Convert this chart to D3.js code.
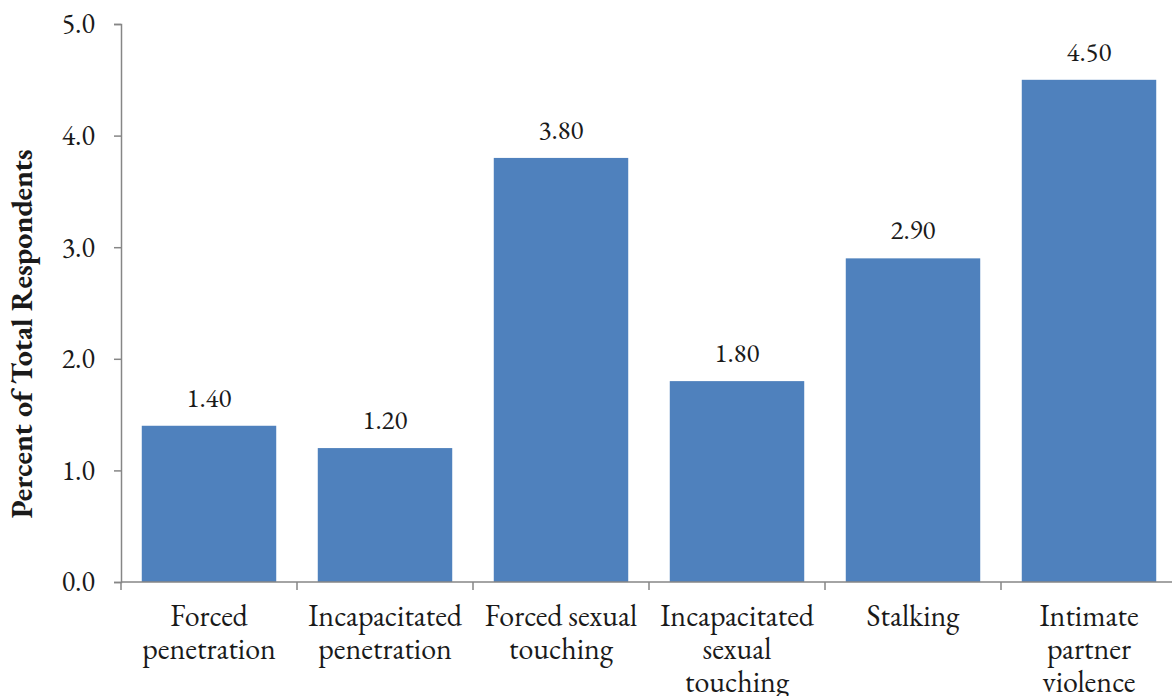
<!DOCTYPE html>
<html>
<head>
<meta charset="utf-8">
<script src="https://cdn.jsdelivr.net/npm/d3@7"></script>
<style>
  body { margin: 0; background: #fff; }
  svg text { font-family: "EB Garamond", "Times New Roman", serif; fill: #1a1a1a; }
</style>
</head>
<body>
<div id="chart"></div>
<script>
const categories = [
    ["Forced", "penetration"],
    ["Incapacitated", "penetration"],
    ["Forced sexual", "touching"],
    ["Incapacitated", "sexual", "touching"],
    ["Stalking"],
    ["Intimate", "partner", "violence"]
];
const values = [1.4, 1.2, 3.8, 1.8, 2.9, 4.5];
const yTicks = [0, 1, 2, 3, 4, 5];

const width = 1172, height = 696;
const margin = { left: 121, right: -5, top: 24, bottom: 114 };

const svg = d3.select("#chart").append("svg")
    .attr("width", width)
    .attr("height", height);

const x = d3.scaleBand()
    .domain(d3.range(categories.length))
    .range([margin.left, width - margin.right])
    .paddingInner(0.236)
    .paddingOuter(0.118);

const y = d3.scaleLinear()
    .domain([0, 5])
    .range([height - margin.bottom, margin.top]);

// bars
svg.append("g")
    .selectAll("rect")
    .data(values)
    .enter().append("rect")
    .attr("x", (d, i) => x(i))
    .attr("y", d => y(d))
    .attr("width", x.bandwidth())
    .attr("height", d => y(0) - y(d))
    .attr("fill", "#4f81bd");

// value labels
svg.append("g")
    .selectAll("text")
    .data(values)
    .enter().append("text")
    .attr("x", (d, i) => x(i) + x.bandwidth() / 2)
    .attr("y", d => y(d) - 19)
    .attr("text-anchor", "middle")
    .style("font-size", "27px")
    .text(d => d.toFixed(2));

// y axis
const yAxis = svg.append("g")
    .attr("transform", `translate(${margin.left},0)`)
    .call(d3.axisLeft(y).tickValues(yTicks).tickFormat(d3.format(".1f")).tickSizeOuter(0).tickSize(7).tickPadding(19));
yAxis.select(".domain").attr("stroke", "#868686").attr("stroke-width", 1.5);
yAxis.selectAll(".tick line").attr("stroke", "#868686").attr("stroke-width", 1.5);
yAxis.selectAll(".tick text").style("font-size", "28px").attr("fill", "#1a1a1a");

// x axis with ticks at band boundaries
const y0 = y(0);
svg.append("line")
    .attr("x1", margin.left).attr("x2", width)
    .attr("y1", y0).attr("y2", y0)
    .attr("stroke", "#868686").attr("stroke-width", 1.5);

const step = x.step();
const boundaries = d3.range(categories.length).map(i => x(i) - x.paddingInner() * step / 2);
svg.append("g")
    .selectAll("line")
    .data(boundaries)
    .enter().append("line")
    .attr("x1", d => d).attr("x2", d => d)
    .attr("y1", y0).attr("y2", y0 + 8)
    .attr("stroke", "#868686").attr("stroke-width", 1.5);

// category labels
const catLabels = svg.append("g")
    .selectAll("text")
    .data(categories)
    .enter().append("text")
    .attr("x", (d, i) => x(i) + x.bandwidth() / 2)
    .attr("y", y0 + 44)
    .attr("text-anchor", "middle")
    .style("font-size", "30px");
catLabels.selectAll("tspan")
    .data(d => d)
    .enter().append("tspan")
    .attr("x", function() { return d3.select(this.parentNode).attr("x"); })
    .attr("dy", (d, i) => i === 0 ? 0 : 33)
    .text(d => d);

// y axis title
svg.append("text")
    .attr("transform", `translate(32,334) rotate(-90)`)
    .attr("text-anchor", "middle")
    .style("font-size", "30px")
    .style("font-weight", "bold")
    .text("Percent of Total Respondents");
</script>
</body>
</html>
